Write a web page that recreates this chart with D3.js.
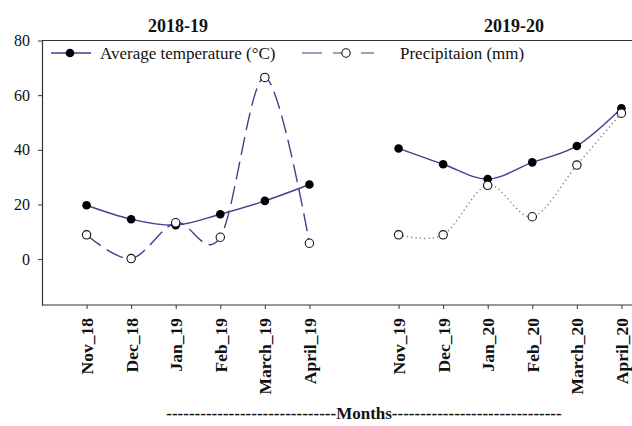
<!DOCTYPE html>
<html>
<head>
<meta charset="utf-8">
<script src="https://cdn.jsdelivr.net/npm/d3@7"></script>
<style>
body{margin:0;background:#fff;}
svg{display:block;font-family:"Liberation Serif","Times New Roman",serif;}
.tick text{font-family:"Liberation Serif","Times New Roman",serif;}
</style>
</head>
<body>
<svg id="chart"></svg>
<script>
// data
var months1=["Nov_18","Dec_18","Jan_19","Feb_19","March_19","April_19"]
var months2=["Nov_19","Dec_19","Jan_20","Feb_20","March_20","April_20"]
var temp1=[19.7,14.6,12.4,16.4,21.3,27.3]
var precip1=[8.9,0.2,13.3,8.0,66.5,5.8]
var temp2=[40.5,34.7,29.3,35.4,41.4,55.2]
var precip2=[8.9,8.9,27.0,15.5,34.4,53.4]
var yTicks=[0,20,40,60,80]
var seasons=["2018-19","2019-20"]
var legendNames=["Average temperature (°C)","Precipitaion (mm)"]

var lineColor="#40408c"

var initChart=function()
    {
        var screen={width:632,height:426}
        var margins={left:42,top:40.5,bottom:121}

        var svg=d3.select("#chart")
            .attr("width",screen.width)
            .attr("height",screen.height)

        // slots: blank, 6 months, gap, 6 months, blank end
        var slots=[" "].concat(months1,["  "],months2,["   "])
        var xScale=d3.scalePoint()
            .domain(slots)
            .range([margins.left,666])
        var yScale=d3.scaleLinear()
            .domain([-16.8,80])
            .range([screen.height-margins.bottom,margins.top])

        drawFrame(svg,xScale,yScale)
        drawSeason(svg,months1,temp1,precip1,xScale,yScale,"18,7")
        drawSeason(svg,months2,temp2,precip2,xScale,yScale,"1.3,3")
        drawLegend(svg)
        drawLabels(svg)
    }

var drawFrame=function(svg,xScale,yScale)
    {
        var x0=xScale.range()[0]
        // top border of plot area
        svg.append("line")
            .attr("x1",x0).attr("x2",640)
            .attr("y1",yScale(80)).attr("y2",yScale(80))
            .attr("stroke","#333").attr("stroke-width",1.2)

        var xAxis=d3.axisBottom(xScale)
            .tickValues(months1.concat(months2))
            .tickSize(4)
            .tickSizeOuter(0)
        var gx=svg.append("g")
            .attr("transform","translate(0,"+yScale.range()[0]+")")
            .call(xAxis)
        gx.select(".domain").attr("stroke","#333").attr("stroke-width",1.2)
            .attr("d","M"+x0+",0H640")
        gx.selectAll(".tick line").attr("stroke","#333")
        gx.selectAll(".tick text")
            .attr("transform","rotate(-90)")
            .attr("text-anchor","end")
            .attr("x",-13)
            .attr("y",0)
            .attr("dy","0.35em")
            .attr("fill","#111")
            .style("font-size","17.5px")
            .style("font-weight","bold")

        var yAxis=d3.axisLeft(yScale)
            .tickValues(yTicks)
            .tickSize(4)
            .tickSizeOuter(0)
        var gy=svg.append("g")
            .attr("transform","translate("+x0+",0)")
            .call(yAxis)
        gy.select(".domain").attr("stroke","#333").attr("stroke-width",1.2)
        gy.selectAll(".tick line").attr("stroke","#333")
        gy.selectAll(".tick text")
            .attr("x",-12)
            .attr("fill","#111")
            .style("font-size","16px")
    }

var drawSeason=function(svg,months,temp,precip,xScale,yScale,dash)
    {
        var tLine=d3.line()
            .x(function(d,i){return xScale(months[i])})
            .y(function(d){return yScale(d)})
            .curve(d3.curveCardinal.tension(0))

        var dotted=dash.indexOf("1.3")==0
        svg.append("path")
            .datum(precip)
            .attr("d",tLine)
            .attr("fill","none")
            .attr("stroke",dotted?"#8a8a8a":lineColor)
            .attr("stroke-width",dotted?1.5:1.4)
            .attr("stroke-dasharray",dash)

        svg.append("path")
            .datum(temp)
            .attr("d",tLine)
            .attr("fill","none")
            .attr("stroke",lineColor)
            .attr("stroke-width",1.4)

        svg.append("g")
            .selectAll("circle")
            .data(temp)
            .enter()
            .append("circle")
            .attr("cx",function(d,i){return xScale(months[i])})
            .attr("cy",function(d){return yScale(d)})
            .attr("r",4.3)
            .attr("fill","#000")

        svg.append("g")
            .selectAll("circle")
            .data(precip)
            .enter()
            .append("circle")
            .attr("cx",function(d,i){return xScale(months[i])})
            .attr("cy",function(d){return yScale(d)})
            .attr("r",4.2)
            .attr("fill","#fff")
            .attr("stroke","#111")
            .attr("stroke-width",1.1)
    }

var drawLegend=function(svg)
    {
        var lg=svg.append("g")
        lg.append("line")
            .attr("x1",51).attr("x2",91).attr("y1",53).attr("y2",53)
            .attr("stroke",lineColor).attr("stroke-width",1.4)
        lg.append("circle")
            .attr("cx",70).attr("cy",53).attr("r",4.3).attr("fill","#000")
        lg.append("text")
            .text(legendNames[0])
            .attr("x",100).attr("y",59)
            .style("font-size","17px").attr("fill","#111")

        lg.append("line")
            .attr("x1",302).attr("x2",374).attr("y1",53).attr("y2",53)
            .attr("stroke",lineColor).attr("stroke-width",1.2)
            .attr("stroke-dasharray","20,11,9,19")
        lg.append("circle")
            .attr("cx",346).attr("cy",53).attr("r",4.2)
            .attr("fill","#fff").attr("stroke","#111").attr("stroke-width",1.1)
        lg.append("text")
            .text(legendNames[1])
            .attr("x",400).attr("y",59)
            .style("font-size","17px").attr("fill","#111")
    }

var drawLabels=function(svg)
    {
        var labels=svg.append("g")
        labels.selectAll("text.title")
            .data(seasons)
            .enter()
            .append("text")
            .classed("title",true)
            .text(function(d){return d})
            .attr("text-anchor","middle")
            .attr("x",function(d,i){return i==0?178:514})
            .attr("y",32)
            .style("font-size","18px")
            .style("font-weight","bold")
            .attr("fill","#111")

        var dashes=new Array(31).join("-")
        labels.append("text")
            .text(dashes+"Months"+dashes)
            .attr("text-anchor","middle")
            .attr("x",364)
            .attr("y",419)
            .style("font-size","17px")
            .style("font-weight","bold")
            .attr("fill","#111")
    }

initChart()
</script>
</body>
</html>
